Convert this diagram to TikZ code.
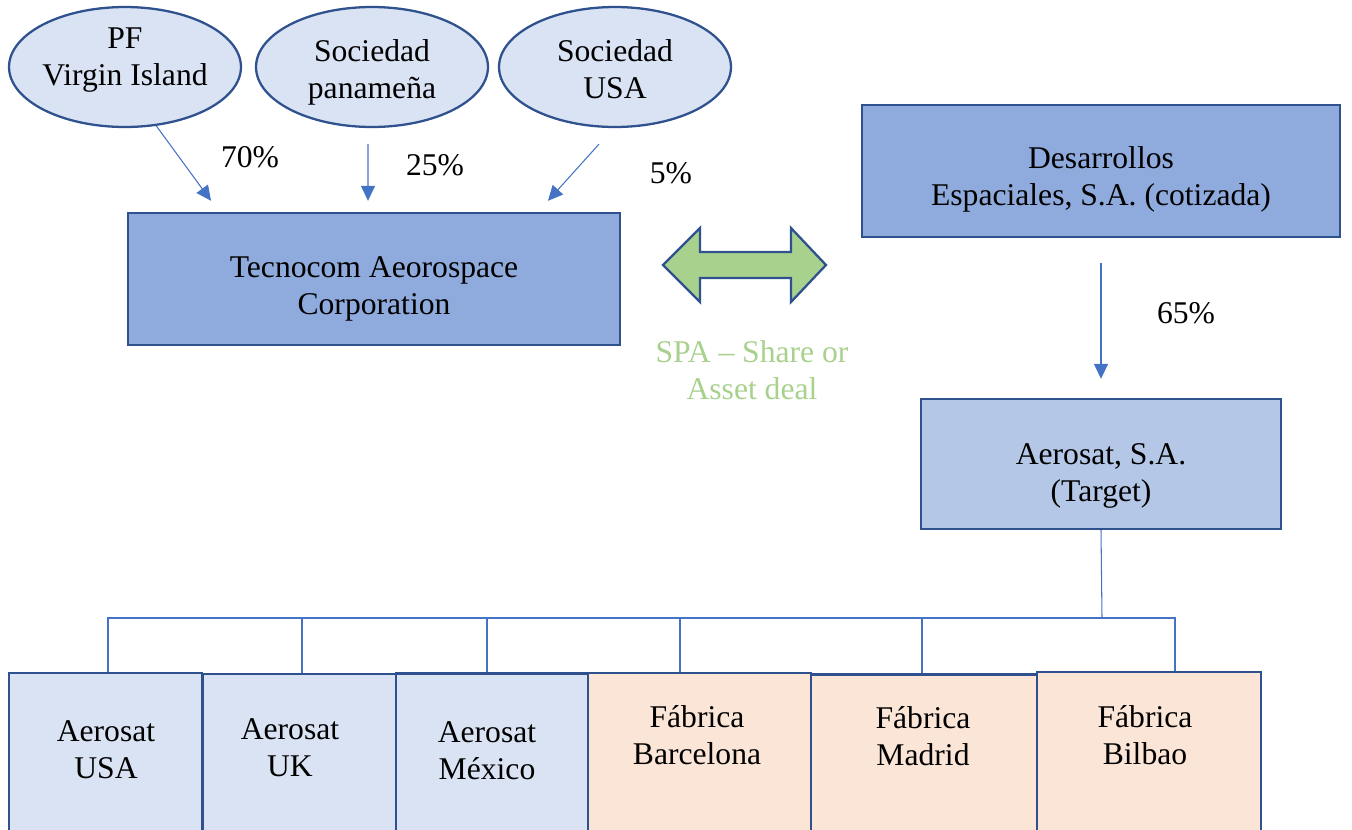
\documentclass[tikz,border=0pt]{standalone}
\usepackage{fontspec}
\setmainfont{Liberation Serif}
\usepackage{xcolor}
\usepackage{tikz}
\usetikzlibrary {arrows.meta}
\usetikzlibrary {shapes.geometric}
\definecolor{edgeblue}{HTML}{2F528F}
\definecolor{linkblue}{HTML}{4472C4}
\definecolor{midblue}{HTML}{8FAADC}
\definecolor{lightblue}{HTML}{B4C7E7}
\definecolor{paleblue}{HTML}{DAE3F3}
\definecolor{peach}{HTML}{FBE5D6}
\definecolor{dealgreen}{HTML}{A9D18E}
\tikzset{
  label text/.style={font=\fontsize{18}{21}\selectfont, align=center, inner sep=0pt},
  owner/.style={ellipse, draw=edgeblue, line width=1.3pt, fill=paleblue,
    minimum width=4.64cm, minimum height=2.4cm, inner sep=0pt},
  company/.style={rectangle, draw=edgeblue, line width=1.4pt, inner sep=0pt},
  subsidiary/.style={rectangle, draw=edgeblue, line width=1.4pt, minimum height=3.34cm, inner sep=0pt},
  own/.style={draw=linkblue, line width=0.6pt, -{Triangle[length=8.5pt, width=8pt]}},
  tie/.style={draw=linkblue, line width=0.6pt},
}

\begin{document}
\begin{tikzpicture}[x=0.02cm, y=-0.02cm]
    \useasboundingbox (0,0) rectangle (1352,829);
    \clip (0,0) rectangle (1352,829);
    % Shareholders
    \node[owner] (pf) at (125,67) {};
    \node[owner] (pan) at (372,67) {};
    \node[owner] (soc) at (615,67) {};
    \node[label text] (pfT) at (125,60) {PF\\Virgin Island};
    \node[label text] (panT) at (372,72) {Sociedad\\panameña};
    \node[label text] (socT) at (615,69) {Sociedad\\USA};
    % Buyer and seller
    \node[company, fill=midblue, minimum width=9.84cm, minimum height=2.64cm] (tecnocom) at (374,279) {};
    \node[company, fill=midblue, minimum width=9.56cm, minimum height=2.64cm] (desarrollos) at (1101,171) {};
    \node[company, fill=lightblue, minimum width=7.2cm, minimum height=2.6cm] (aerosat) at (1101,464) {};
    \node[label text] (tecnocomT) at (374,289) {Tecnocom Aeorospace\\Corporation};
    \node[label text] (desarrollosT) at (1101,179) {Desarrollos\\Espaciales, S.A. (cotizada)};
    \node[label text] (aerosatT) at (1101,476) {Aerosat, S.A.\\(Target)};
    \draw [own] (pf.-62) -- ([xshift=-3.26cm, yshift=0.22cm]tecnocom.north);
    \draw [own] ([xshift=-0.08cm, yshift=-0.32cm]pan.south) -- ([xshift=-0.12cm, yshift=0.22cm]tecnocom.north);
    \draw [own] ([xshift=-0.32cm, yshift=-0.32cm]soc.south) -- ([xshift=3.48cm, yshift=0.22cm]tecnocom.north);
    \node[label text] (p70) at (250,157) {70\%};
    \node[label text] (p25) at (435,165) {25\%};
    \node[label text] (p5) at (671,173) {5\%};
    \draw [own] ([yshift=-0.5cm]desarrollos.south) -- ([yshift=0.38cm]aerosat.north);
    \node[label text] (p65) at (1186,313) {65\%};
    % Deal
    \draw[draw=edgeblue, line width=1.3pt, fill=dealgreen, line join=miter]
      (663,265) -- (700,228) -- (700,252) -- (791,252) -- (791,228) -- (826,265)
      -- (791,302) -- (791,278) -- (700,278) -- (700,302) -- cycle;
    \node[label text, text=dealgreen] (spa) at (752,370) {SPA -- Share or\\Asset deal};
    % Subsidiaries
    \node[subsidiary, fill=paleblue, minimum width=3.86cm] (usa) at (105.5,756.5) {};
    \node[subsidiary, fill=paleblue, minimum width=3.86cm] (uk) at (299.5,757.5) {};
    \node[subsidiary, fill=paleblue, minimum width=3.84cm] (mex) at (492,757) {};
    \node[subsidiary, fill=peach, minimum width=4.46cm] (bcn) at (699.5,756.5) {};
    \node[subsidiary, fill=peach, minimum width=4.52cm] (mad) at (924,758) {};
    \node[subsidiary, fill=peach, minimum width=4.48cm] (bio) at (1149,755.5) {};
    \node[label text] (usaT) at (106,750) {Aerosat\\USA};
    \node[label text] (ukT) at (290,748) {Aerosat\\UK};
    \node[label text] (mexT) at (487,751) {Aerosat\\México};
    \node[label text] (bcnT) at (697,735) {Fábrica\\Barcelona};
    \node[label text] (madT) at (923,736) {Fábrica\\Madrid};
    \node[label text] (bioT) at (1145,735) {Fábrica\\Bilbao};
    \coordinate (bus) at (1102,618);
    \draw[tie] (aerosat.south) -- (bus);
    \draw[tie] ([xshift=0.05cm]usa.north) |- ([xshift=0.52cm]bio.north |- bus) -- ([xshift=0.52cm]bio.north);
    \draw[tie] ([xshift=0.05cm]uk.north) -- ([xshift=0.05cm]uk.north |- bus);
    \draw[tie] ([xshift=-0.1cm]mex.north) -- ([xshift=-0.1cm]mex.north |- bus);
    \draw[tie] ([xshift=-0.39cm]bcn.north) -- ([xshift=-0.39cm]bcn.north |- bus);
    \draw[tie] ([xshift=-0.04cm]mad.north) -- ([xshift=-0.04cm]mad.north |- bus);
\end{tikzpicture}
\end{document}
